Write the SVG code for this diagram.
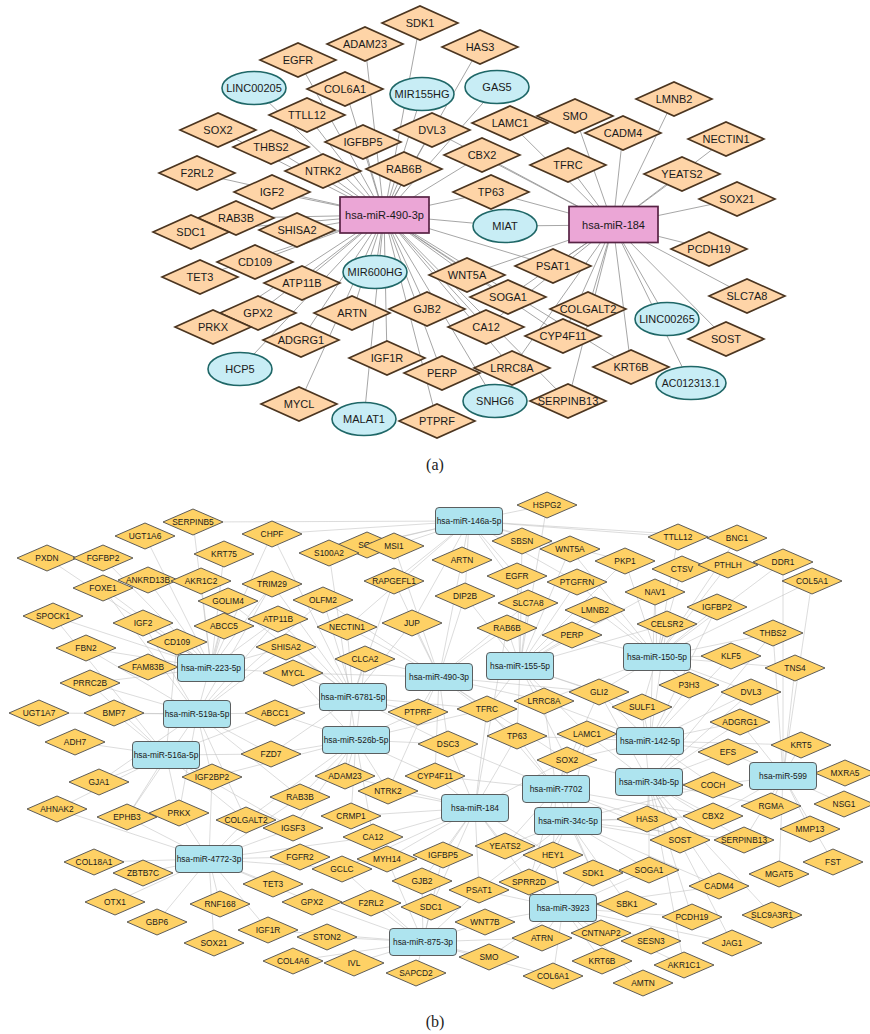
<svg xmlns="http://www.w3.org/2000/svg" xmlns:xlink="http://www.w3.org/1999/xlink" width="870" height="1034" viewBox="0 0 870 1034">
<style>
.ea{stroke:#8f8f8f;stroke-width:0.8;fill:none}
.eb{stroke:#bebebe;stroke-width:0.55;fill:none}
.ta{font-family:"Liberation Sans",Arial,sans-serif;font-size:11px;fill:#1a1a1a;text-anchor:middle;dominant-baseline:central}
.tb{font-family:"Liberation Sans",Arial,sans-serif;font-size:8.4px;fill:#1a1a1a;text-anchor:middle;dominant-baseline:central}
.cap{font-family:"Liberation Serif","Times New Roman",serif;font-size:16px;fill:#222;text-anchor:middle}
</style>
<defs>
<polygon id="dA" points="-38,0 0,-17 38,0 0,17" fill="#fed4a7" stroke="#4b3520" stroke-width="1.6"/>
<ellipse id="oA" rx="32" ry="16.5" fill="#c8edf5" stroke="#1f6767" stroke-width="1.6"/>
<ellipse id="oAw" rx="35" ry="16.5" fill="#c8edf5" stroke="#1f6767" stroke-width="1.6"/>
<rect id="rA" x="-44.5" y="-18" width="89" height="36" fill="#eba6d6" stroke="#572244" stroke-width="1.7"/>
<polygon id="dB" points="-30,0 0,-13 30,0 0,13" fill="#fed165" stroke="#4d4d4d" stroke-width="0.9"/>
<rect id="rB" x="-33.5" y="-13.5" width="67" height="27" rx="3.5" fill="#aee4ef" stroke="#4d4d4d" stroke-width="0.9"/>
</defs>
<rect width="870" height="1034" fill="#ffffff"/>

<!-- network (a): connectors -->
<g id="edges-a">
<path class="ea" d="M384 215L420 23M384 215L365 44M384 215L298 60M384 215L345 89M384 215L254 88M384 215L422 94M384 215L307 115M384 215L218 130M384 215L363 142M384 215L432 130M384 215L271 147M384 215L323 171M384 215L404 169M384 215L197 173M384 215L272 192M384 215L236 218M384 215L191 232M384 215L297 230M384 215L255 262M384 215L200 277M384 215L302 283M384 215L375 272M384 215L258 313M384 215L213 327M384 215L352 313M384 215L301 340M384 215L240 369M384 215L299 404M384 215L364 419M384 215L387 358M384 215L437 421M384 215L442 373M384 215L427 309M384 215L467 275M384 215L508 297M384 215L486 327M384 215L495 401M384 215L512 368M384 215L568 401M384 215L563 336M384 215L491 192M384 215L505 226M384 215L482 155M384 215L497 87M384 215L480 47M384 215L631 367M384 215L553 266"/>
<path class="ea" d="M613 225L510 123M613 225L575 116M613 225L623 133M613 225L674 99M613 225L682 174M613 225L726 139M613 225L737 199M613 225L709 249M613 225L747 296M613 225L726 339M613 225L690 383M613 225L667 319M613 225L631 367M613 225L563 336M613 225L568 401M613 225L588 309M613 225L553 266M613 225L508 297M613 225L467 275M613 225L568 165M613 225L491 192M613 225L482 155M613 225L505 226M613 225L512 368M613 225L486 327M613 225L432 130"/>
</g>

<!-- network (a): nodes -->
<g id="nodes-a">
<g id="a-sdk1" transform="translate(420 23)"><use href="#dA"/><text class="ta">SDK1</text></g>
<g id="a-adam23" transform="translate(365 44)"><use href="#dA"/><text class="ta">ADAM23</text></g>
<g id="a-has3" transform="translate(480 47)"><use href="#dA"/><text class="ta">HAS3</text></g>
<g id="a-egfr" transform="translate(298 60)"><use href="#dA"/><text class="ta">EGFR</text></g>
<g id="a-linc00205" transform="translate(254 88)"><use href="#oA"/><text class="ta">LINC00205</text></g>
<g id="a-col6a1" transform="translate(345 89)"><use href="#dA"/><text class="ta">COL6A1</text></g>
<g id="a-mir155hg" transform="translate(422 94)"><use href="#oA"/><text class="ta">MIR155HG</text></g>
<g id="a-gas5" transform="translate(497 87)"><use href="#oA"/><text class="ta">GAS5</text></g>
<g id="a-lmnb2" transform="translate(674 99)"><use href="#dA"/><text class="ta">LMNB2</text></g>
<g id="a-ttll12" transform="translate(307 115)"><use href="#dA"/><text class="ta">TTLL12</text></g>
<g id="a-smo" transform="translate(575 116)"><use href="#dA"/><text class="ta">SMO</text></g>
<g id="a-lamc1" transform="translate(510 123)"><use href="#dA"/><text class="ta">LAMC1</text></g>
<g id="a-sox2" transform="translate(218 130)"><use href="#dA"/><text class="ta">SOX2</text></g>
<g id="a-dvl3" transform="translate(432 130)"><use href="#dA"/><text class="ta">DVL3</text></g>
<g id="a-cadm4" transform="translate(623 133)"><use href="#dA"/><text class="ta">CADM4</text></g>
<g id="a-nectin1" transform="translate(726 139)"><use href="#dA"/><text class="ta">NECTIN1</text></g>
<g id="a-igfbp5" transform="translate(363 142)"><use href="#dA"/><text class="ta">IGFBP5</text></g>
<g id="a-thbs2" transform="translate(271 147)"><use href="#dA"/><text class="ta">THBS2</text></g>
<g id="a-cbx2" transform="translate(482 155)"><use href="#dA"/><text class="ta">CBX2</text></g>
<g id="a-tfrc" transform="translate(568 165)"><use href="#dA"/><text class="ta">TFRC</text></g>
<g id="a-rab6b" transform="translate(404 169)"><use href="#dA"/><text class="ta">RAB6B</text></g>
<g id="a-ntrk2" transform="translate(323 171)"><use href="#dA"/><text class="ta">NTRK2</text></g>
<g id="a-f2rl2" transform="translate(197 173)"><use href="#dA"/><text class="ta">F2RL2</text></g>
<g id="a-yeats2" transform="translate(682 174)"><use href="#dA"/><text class="ta">YEATS2</text></g>
<g id="a-igf2" transform="translate(272 192)"><use href="#dA"/><text class="ta">IGF2</text></g>
<g id="a-tp63" transform="translate(491 192)"><use href="#dA"/><text class="ta">TP63</text></g>
<g id="a-sox21" transform="translate(737 199)"><use href="#dA"/><text class="ta">SOX21</text></g>
<g id="a-rab3b" transform="translate(236 218)"><use href="#dA"/><text class="ta">RAB3B</text></g>
<g id="a-miat" transform="translate(505 226)"><use href="#oA"/><text class="ta">MIAT</text></g>
<g id="a-sdc1" transform="translate(191 232)"><use href="#dA"/><text class="ta">SDC1</text></g>
<g id="a-shisa2" transform="translate(297 230)"><use href="#dA"/><text class="ta">SHISA2</text></g>
<g id="a-mir490" transform="translate(384.5 215)"><use href="#rA"/><text class="ta">hsa-miR-490-3p</text></g>
<g id="a-mir184" transform="translate(613.5 224.5)"><use href="#rA"/><text class="ta">hsa-miR-184</text></g>
<g id="a-pcdh19" transform="translate(709 249)"><use href="#dA"/><text class="ta">PCDH19</text></g>
<g id="a-cd109" transform="translate(255 262)"><use href="#dA"/><text class="ta">CD109</text></g>
<g id="a-psat1" transform="translate(553 266)"><use href="#dA"/><text class="ta">PSAT1</text></g>
<g id="a-mir600hg" transform="translate(375 272)"><use href="#oA"/><text class="ta">MIR600HG</text></g>
<g id="a-wnt5a" transform="translate(467 275)"><use href="#dA"/><text class="ta">WNT5A</text></g>
<g id="a-tet3" transform="translate(200 277)"><use href="#dA"/><text class="ta">TET3</text></g>
<g id="a-atp11b" transform="translate(302 283)"><use href="#dA"/><text class="ta">ATP11B</text></g>
<g id="a-slc7a8" transform="translate(747 296)"><use href="#dA"/><text class="ta">SLC7A8</text></g>
<g id="a-soga1" transform="translate(508 297)"><use href="#dA"/><text class="ta">SOGA1</text></g>
<g id="a-gjb2" transform="translate(427 309)"><use href="#dA"/><text class="ta">GJB2</text></g>
<g id="a-colgalt2" transform="translate(588 309)"><use href="#dA"/><text class="ta">COLGALT2</text></g>
<g id="a-gpx2" transform="translate(258 313)"><use href="#dA"/><text class="ta">GPX2</text></g>
<g id="a-artn" transform="translate(352 313)"><use href="#dA"/><text class="ta">ARTN</text></g>
<g id="a-linc00265" transform="translate(667 319)"><use href="#oA"/><text class="ta">LINC00265</text></g>
<g id="a-prkx" transform="translate(213 327)"><use href="#dA"/><text class="ta">PRKX</text></g>
<g id="a-ca12" transform="translate(486 327)"><use href="#dA"/><text class="ta">CA12</text></g>
<g id="a-cyp4f11" transform="translate(563 336)"><use href="#dA"/><text class="ta">CYP4F11</text></g>
<g id="a-sost" transform="translate(726 339)"><use href="#dA"/><text class="ta">SOST</text></g>
<g id="a-adgrg1" transform="translate(301 340)"><use href="#dA"/><text class="ta">ADGRG1</text></g>
<g id="a-igf1r" transform="translate(387 358)"><use href="#dA"/><text class="ta">IGF1R</text></g>
<g id="a-krt6b" transform="translate(631 367)"><use href="#dA"/><text class="ta">KRT6B</text></g>
<g id="a-lrrc8a" transform="translate(512 368)"><use href="#dA"/><text class="ta">LRRC8A</text></g>
<g id="a-hcp5" transform="translate(240 369)"><use href="#oA"/><text class="ta">HCP5</text></g>
<g id="a-perp" transform="translate(442 373)"><use href="#dA"/><text class="ta">PERP</text></g>
<g id="a-ac012313" transform="translate(691 383)"><use href="#oAw"/><text class="ta" style="font-size:10.5px">AC012313.1</text></g>
<g id="a-snhg6" transform="translate(495 401)"><use href="#oA"/><text class="ta">SNHG6</text></g>
<g id="a-serpinb13" transform="translate(568 401)"><use href="#dA"/><text class="ta">SERPINB13</text></g>
<g id="a-mycl" transform="translate(299 404)"><use href="#dA"/><text class="ta">MYCL</text></g>
<g id="a-malat1" transform="translate(364 419)"><use href="#oA"/><text class="ta">MALAT1</text></g>
<g id="a-ptprf" transform="translate(437 421)"><use href="#dA"/><text class="ta">PTPRF</text></g>
</g>
<text class="cap" x="435" y="470">(a)</text>

<!-- network (b): connectors, one path per miRNA hub -->
<g id="edges-b">
<path class="eb" d="M469 521L547 505M469 521L522 541M469 521L678 537M469 521L394 546M469 521L367 545M469 521L329 553M469 521L272 534M469 521L462 560M469 521L517 576M469 521L570 549M469 521L625 561M469 521L394 581M469 521L465 596M469 521L528 603M469 521L412 623M469 521L347 627M469 521L577 582M469 521L193 522M469 521L737 538"/>
<path class="eb" d="M211 668L193 522M211 668L145 536M211 668L224 554M211 668L103 558M211 668L148 580M211 668L201 581M211 668L103 588M211 668L228 601M211 668L143 623M211 668L224 626M211 668L177 642M211 668L148 667M211 668L86 648M211 668L90 683M211 668L53 616M211 668L47 558M211 668L286 647M211 668L278 619M211 668L272 584M211 668L293 673M211 668L272 534"/>
<path class="eb" d="M197 714L114 713M197 714L39 713M197 714L275 713M197 714L271 754M197 714L90 683M197 714L212 777M197 714L99 782M197 714L127 817M197 714L179 813M197 714L103 588M197 714L143 623M197 714L278 619M197 714L246 820M197 714L86 648M197 714L272 584M197 714L286 647M197 714L323 600M197 714L300 797M197 714L228 601"/>
<path class="eb" d="M166 755L75 742M166 755L99 782M166 755L57 809M166 755L127 817M166 755L179 813M166 755L212 777M166 755L271 754M166 755L114 713M166 755L90 683M166 755L246 820M166 755L53 616M166 755L275 713M166 755L293 828M166 755L177 642"/>
<path class="eb" d="M353 697L293 673M353 697L275 713M353 697L418 712M353 697L365 659M353 697L347 627M353 697L323 600M353 697L286 647M353 697L272 584M353 697L412 623M353 697L345 776M353 697L271 754M353 697L448 744M353 697L487 709M353 697L278 619M353 697L228 601M353 697L394 581M353 697L272 534"/>
<path class="eb" d="M356 740L275 713M356 740L418 712M356 740L448 744M356 740L345 776M356 740L435 776M356 740L388 791M356 740L300 797M356 740L271 754M356 740L351 816M356 740L293 828M356 740L246 820M356 740L373 837M356 740L365 659M356 740L293 673M356 740L487 709M356 740L329 553M356 740L212 777"/>
<path class="eb" d="M439 677L365 659M439 677L412 623M439 677L418 712M439 677L487 709M439 677L448 744M439 677L507 628M439 677L465 596M439 677L347 627M439 677L394 581M439 677L544 701M439 677L435 776M439 677L517 736M439 677L462 560M439 677L567 760M439 677L599 692M439 677L388 791M439 677L528 603M439 677L293 673M439 677L323 600M439 677L394 546"/>
<path class="eb" d="M520 666L507 628M520 666L572 635M520 666L595 610M520 666L528 603M520 666L517 576M520 666L577 582M520 666L544 701M520 666L487 709M520 666L517 736M520 666L599 692M520 666L570 549M520 666L465 596M520 666L625 561M520 666L655 592M520 666L587 734M520 666L567 760M520 666L642 707M520 666L667 624M520 666L522 541M520 666L547 505"/>
<path class="eb" d="M657 657L667 624M657 657L655 592M657 657L595 610M657 657L572 635M657 657L731 656M657 657L689 685M657 657L717 607M657 657L682 569M657 657L625 561M657 657L773 633M657 657L599 692M657 657L642 707M657 657L795 668M657 657L751 692M657 657L728 565M657 657L678 537M657 657L544 701M657 657L812 581M657 657L737 538M657 657L783 562M657 657L577 582M657 657L570 549"/>
<path class="eb" d="M650 741L642 707M650 741L599 692M650 741L587 734M650 741L728 752M650 741L740 722M650 741L689 685M650 741L751 692M650 741L567 760M650 741L713 785M650 741L731 656M650 741L667 624M650 741L517 736M650 741L544 701M650 741L801 745M650 741L717 607M650 741L655 592"/>
<path class="eb" d="M649 782L713 785M649 782L713 816M649 782L647 819M649 782L680 840M649 782L567 760M649 782L587 734M649 782L728 752M649 782L771 806M649 782L744 840M649 782L740 722M649 782L751 692M649 782L773 633M649 782L642 707M649 782L649 870M649 782L599 692M649 782L719 886M649 782L692 917M649 782L732 943M649 782L772 915M649 782L684 965"/>
<path class="eb" d="M783 776L845 773M783 776L844 804M783 776L801 745M783 776L771 806M783 776L810 829M783 776L728 752M783 776L740 722M783 776L713 816M783 776L713 785M783 776L795 668M783 776L833 862M783 776L779 874M783 776L773 633M783 776L812 581M783 776L783 562M783 776L744 840"/>
<path class="eb" d="M556 789L567 760M556 789L587 734M556 789L517 736M556 789L505 846M556 789L553 855M556 789L435 776M556 789L544 701M556 789L647 819M556 789L680 840M556 789L599 692M556 789L487 709M556 789L448 744M556 789L529 882M556 789L593 873M556 789L713 816"/>
<path class="eb" d="M475 808L435 776M475 808L388 791M475 808L505 846M475 808L443 855M475 808L517 736M475 808L448 744M475 808L373 837M475 808L387 859M475 808L553 855M475 808L422 881M475 808L479 890M475 808L351 816M475 808L567 760M475 808L345 776M475 808L487 709M475 808L342 869M475 808L507 628M475 808L431 907M475 808L529 882"/>
<path class="eb" d="M568 821L553 855M568 821L505 846M568 821L647 819M568 821L680 840M568 821L529 882M568 821L593 873M568 821L649 870M568 821L713 816M568 821L567 760M568 821L587 734M568 821L479 890M568 821L719 886M568 821L744 840M568 821L713 785M568 821L627 904"/>
<path class="eb" d="M209 859L94 862M209 859L143 873M209 859L115 902M209 859L157 922M209 859L220 904M209 859L273 884M209 859L300 857M209 859L293 828M209 859L246 820M209 859L179 813M209 859L127 817M209 859L214 943M209 859L268 930M209 859L312 902M209 859L300 797M209 859L57 809M209 859L212 777M209 859L373 837M209 859L342 869"/>
<path class="eb" d="M563 908L529 882M563 908L593 873M563 908L627 904M563 908L601 933M563 908L602 961M563 908L542 938M563 908L553 976M563 908L643 983M563 908L651 941M563 908L692 917M563 908L649 870M563 908L553 855M563 908L485 922M563 908L479 890M563 908L719 886M563 908L684 965M563 908L732 943M563 908L489 957"/>
<path class="eb" d="M423 942L327 937M423 942L354 963M423 942L416 973M423 942L489 957M423 942L485 922M423 942L431 907M423 942L371 903M423 942L422 881M423 942L312 902M423 942L293 961M423 942L479 890M423 942L542 938M423 942L342 869M423 942L268 930M423 942L387 859M423 942L553 976M423 942L443 855"/>
</g>

<!-- network (b): nodes -->
<g id="nodes-b">
<g id="b-hspg2" transform="translate(547 505)"><use href="#dB"/><text class="tb">HSPG2</text></g>
<g id="b-serpinb5" transform="translate(193 522)"><use href="#dB"/><text class="tb">SERPINB5</text></g>
<g id="b-ugt1a6" transform="translate(145 536)"><use href="#dB"/><text class="tb">UGT1A6</text></g>
<g id="b-chpf" transform="translate(272 534)"><use href="#dB"/><text class="tb">CHPF</text></g>
<g id="b-ttll12" transform="translate(678 537)"><use href="#dB"/><text class="tb">TTLL12</text></g>
<g id="b-bnc1" transform="translate(737 538)"><use href="#dB"/><text class="tb">BNC1</text></g>
<g id="b-sbsn" transform="translate(522 541)"><use href="#dB"/><text class="tb">SBSN</text></g>
<g id="b-sox" transform="translate(367 545)"><use href="#dB"/><text class="tb">SOX</text></g>
<g id="b-s100a2" transform="translate(329 553)"><use href="#dB"/><text class="tb">S100A2</text></g>
<g id="b-msi1" transform="translate(394 546)"><use href="#dB"/><text class="tb">MSI1</text></g>
<g id="b-wnt5a" transform="translate(570 549)"><use href="#dB"/><text class="tb">WNT5A</text></g>
<g id="b-pxdn" transform="translate(47 558)"><use href="#dB"/><text class="tb">PXDN</text></g>
<g id="b-fgfbp2" transform="translate(103 558)"><use href="#dB"/><text class="tb">FGFBP2</text></g>
<g id="b-krt75" transform="translate(224 554)"><use href="#dB"/><text class="tb">KRT75</text></g>
<g id="b-artn" transform="translate(462 560)"><use href="#dB"/><text class="tb">ARTN</text></g>
<g id="b-pkp1" transform="translate(625 561)"><use href="#dB"/><text class="tb">PKP1</text></g>
<g id="b-ctsv" transform="translate(682 569)"><use href="#dB"/><text class="tb">CTSV</text></g>
<g id="b-pthlh" transform="translate(728 565)"><use href="#dB"/><text class="tb">PTHLH</text></g>
<g id="b-ddr1" transform="translate(783 562)"><use href="#dB"/><text class="tb">DDR1</text></g>
<g id="b-egfr" transform="translate(517 576)"><use href="#dB"/><text class="tb">EGFR</text></g>
<g id="b-ankrd13b" transform="translate(148 580)"><use href="#dB"/><text class="tb">ANKRD13B</text></g>
<g id="b-akr1c2" transform="translate(201 581)"><use href="#dB"/><text class="tb">AKR1C2</text></g>
<g id="b-rapgefl1" transform="translate(394 581)"><use href="#dB"/><text class="tb">RAPGEFL1</text></g>
<g id="b-col5a1" transform="translate(812 581)"><use href="#dB"/><text class="tb">COL5A1</text></g>
<g id="b-ptgfrn" transform="translate(577 582)"><use href="#dB"/><text class="tb">PTGFRN</text></g>
<g id="b-trim29" transform="translate(272 584)"><use href="#dB"/><text class="tb">TRIM29</text></g>
<g id="b-foxe1" transform="translate(103 588)"><use href="#dB"/><text class="tb">FOXE1</text></g>
<g id="b-nav1" transform="translate(655 592)"><use href="#dB"/><text class="tb">NAV1</text></g>
<g id="b-dip2b" transform="translate(465 596)"><use href="#dB"/><text class="tb">DIP2B</text></g>
<g id="b-olfm2" transform="translate(323 600)"><use href="#dB"/><text class="tb">OLFM2</text></g>
<g id="b-golim4" transform="translate(228 601)"><use href="#dB"/><text class="tb">GOLIM4</text></g>
<g id="b-slc7a8" transform="translate(528 603)"><use href="#dB"/><text class="tb">SLC7A8</text></g>
<g id="b-igfbp2" transform="translate(717 607)"><use href="#dB"/><text class="tb">IGFBP2</text></g>
<g id="b-lmnb2" transform="translate(595 610)"><use href="#dB"/><text class="tb">LMNB2</text></g>
<g id="b-spock1" transform="translate(53 616)"><use href="#dB"/><text class="tb">SPOCK1</text></g>
<g id="b-atp11b" transform="translate(278 619)"><use href="#dB"/><text class="tb">ATP11B</text></g>
<g id="b-igf2" transform="translate(143 623)"><use href="#dB"/><text class="tb">IGF2</text></g>
<g id="b-jup" transform="translate(412 623)"><use href="#dB"/><text class="tb">JUP</text></g>
<g id="b-celsr2" transform="translate(667 624)"><use href="#dB"/><text class="tb">CELSR2</text></g>
<g id="b-abcc5" transform="translate(224 626)"><use href="#dB"/><text class="tb">ABCC5</text></g>
<g id="b-nectin1" transform="translate(347 627)"><use href="#dB"/><text class="tb">NECTIN1</text></g>
<g id="b-rab6b" transform="translate(507 628)"><use href="#dB"/><text class="tb">RAB6B</text></g>
<g id="b-thbs2" transform="translate(773 633)"><use href="#dB"/><text class="tb">THBS2</text></g>
<g id="b-perp" transform="translate(572 635)"><use href="#dB"/><text class="tb">PERP</text></g>
<g id="b-cd109" transform="translate(177 642)"><use href="#dB"/><text class="tb">CD109</text></g>
<g id="b-shisa2" transform="translate(286 647)"><use href="#dB"/><text class="tb">SHISA2</text></g>
<g id="b-fbn2" transform="translate(86 648)"><use href="#dB"/><text class="tb">FBN2</text></g>
<g id="b-klf5" transform="translate(731 656)"><use href="#dB"/><text class="tb">KLF5</text></g>
<g id="b-clca2" transform="translate(365 659)"><use href="#dB"/><text class="tb">CLCA2</text></g>
<g id="b-fam83b" transform="translate(148 667)"><use href="#dB"/><text class="tb">FAM83B</text></g>
<g id="b-tns4" transform="translate(795 668)"><use href="#dB"/><text class="tb">TNS4</text></g>
<g id="b-mycl" transform="translate(293 673)"><use href="#dB"/><text class="tb">MYCL</text></g>
<g id="b-prrc2b" transform="translate(90 683)"><use href="#dB"/><text class="tb">PRRC2B</text></g>
<g id="b-p3h3" transform="translate(689 685)"><use href="#dB"/><text class="tb">P3H3</text></g>
<g id="b-gli2" transform="translate(599 692)"><use href="#dB"/><text class="tb">GLI2</text></g>
<g id="b-dvl3" transform="translate(751 692)"><use href="#dB"/><text class="tb">DVL3</text></g>
<g id="b-lrrc8a" transform="translate(544 701)"><use href="#dB"/><text class="tb">LRRC8A</text></g>
<g id="b-sulf1" transform="translate(642 707)"><use href="#dB"/><text class="tb">SULF1</text></g>
<g id="b-tfrc" transform="translate(487 709)"><use href="#dB"/><text class="tb">TFRC</text></g>
<g id="b-ptprf" transform="translate(418 712)"><use href="#dB"/><text class="tb">PTPRF</text></g>
<g id="b-ugt1a7" transform="translate(39 713)"><use href="#dB"/><text class="tb">UGT1A7</text></g>
<g id="b-bmp7" transform="translate(114 713)"><use href="#dB"/><text class="tb">BMP7</text></g>
<g id="b-abcc1" transform="translate(275 713)"><use href="#dB"/><text class="tb">ABCC1</text></g>
<g id="b-adgrg1" transform="translate(740 722)"><use href="#dB"/><text class="tb">ADGRG1</text></g>
<g id="b-lamc1" transform="translate(587 734)"><use href="#dB"/><text class="tb">LAMC1</text></g>
<g id="b-tp63" transform="translate(517 736)"><use href="#dB"/><text class="tb">TP63</text></g>
<g id="b-adh7" transform="translate(75 742)"><use href="#dB"/><text class="tb">ADH7</text></g>
<g id="b-dsc3" transform="translate(448 744)"><use href="#dB"/><text class="tb">DSC3</text></g>
<g id="b-krt5" transform="translate(801 745)"><use href="#dB"/><text class="tb">KRT5</text></g>
<g id="b-efs" transform="translate(728 752)"><use href="#dB"/><text class="tb">EFS</text></g>
<g id="b-fzd7" transform="translate(271 754)"><use href="#dB"/><text class="tb">FZD7</text></g>
<g id="b-sox2" transform="translate(567 760)"><use href="#dB"/><text class="tb">SOX2</text></g>
<g id="b-mxra5" transform="translate(845 773)"><use href="#dB"/><text class="tb">MXRA5</text></g>
<g id="b-adam23" transform="translate(345 776)"><use href="#dB"/><text class="tb">ADAM23</text></g>
<g id="b-cyp4f11" transform="translate(435 776)"><use href="#dB"/><text class="tb">CYP4F11</text></g>
<g id="b-igf2bp2" transform="translate(212 777)"><use href="#dB"/><text class="tb">IGF2BP2</text></g>
<g id="b-gja1" transform="translate(99 782)"><use href="#dB"/><text class="tb">GJA1</text></g>
<g id="b-coch" transform="translate(713 785)"><use href="#dB"/><text class="tb">COCH</text></g>
<g id="b-ntrk2" transform="translate(388 791)"><use href="#dB"/><text class="tb">NTRK2</text></g>
<g id="b-rab3b" transform="translate(300 797)"><use href="#dB"/><text class="tb">RAB3B</text></g>
<g id="b-nsg1" transform="translate(844 804)"><use href="#dB"/><text class="tb">NSG1</text></g>
<g id="b-rgma" transform="translate(771 806)"><use href="#dB"/><text class="tb">RGMA</text></g>
<g id="b-ahnak2" transform="translate(57 809)"><use href="#dB"/><text class="tb">AHNAK2</text></g>
<g id="b-ephb3" transform="translate(127 817)"><use href="#dB"/><text class="tb">EPHB3</text></g>
<g id="b-prkx" transform="translate(179 813)"><use href="#dB"/><text class="tb">PRKX</text></g>
<g id="b-crmp1" transform="translate(351 816)"><use href="#dB"/><text class="tb">CRMP1</text></g>
<g id="b-cbx2" transform="translate(713 816)"><use href="#dB"/><text class="tb">CBX2</text></g>
<g id="b-has3" transform="translate(647 819)"><use href="#dB"/><text class="tb">HAS3</text></g>
<g id="b-colgalt2" transform="translate(246 820)"><use href="#dB"/><text class="tb">COLGALT2</text></g>
<g id="b-igsf3" transform="translate(293 828)"><use href="#dB"/><text class="tb">IGSF3</text></g>
<g id="b-mmp13" transform="translate(810 829)"><use href="#dB"/><text class="tb">MMP13</text></g>
<g id="b-ca12" transform="translate(373 837)"><use href="#dB"/><text class="tb">CA12</text></g>
<g id="b-sost" transform="translate(680 840)"><use href="#dB"/><text class="tb">SOST</text></g>
<g id="b-serpinb13" transform="translate(744 840)"><use href="#dB"/><text class="tb">SERPINB13</text></g>
<g id="b-yeats2" transform="translate(505 846)"><use href="#dB"/><text class="tb">YEATS2</text></g>
<g id="b-igfbp5" transform="translate(443 855)"><use href="#dB"/><text class="tb">IGFBP5</text></g>
<g id="b-hey1" transform="translate(553 855)"><use href="#dB"/><text class="tb">HEY1</text></g>
<g id="b-fgfr2" transform="translate(300 857)"><use href="#dB"/><text class="tb">FGFR2</text></g>
<g id="b-myh14" transform="translate(387 859)"><use href="#dB"/><text class="tb">MYH14</text></g>
<g id="b-col18a1" transform="translate(94 862)"><use href="#dB"/><text class="tb">COL18A1</text></g>
<g id="b-fst" transform="translate(833 862)"><use href="#dB"/><text class="tb">FST</text></g>
<g id="b-gclc" transform="translate(342 869)"><use href="#dB"/><text class="tb">GCLC</text></g>
<g id="b-soga1" transform="translate(649 870)"><use href="#dB"/><text class="tb">SOGA1</text></g>
<g id="b-sdk1" transform="translate(593 873)"><use href="#dB"/><text class="tb">SDK1</text></g>
<g id="b-zbtb7c" transform="translate(143 873)"><use href="#dB"/><text class="tb">ZBTB7C</text></g>
<g id="b-mgat5" transform="translate(779 874)"><use href="#dB"/><text class="tb">MGAT5</text></g>
<g id="b-gjb2" transform="translate(422 881)"><use href="#dB"/><text class="tb">GJB2</text></g>
<g id="b-sprr2d" transform="translate(529 882)"><use href="#dB"/><text class="tb">SPRR2D</text></g>
<g id="b-tet3" transform="translate(273 884)"><use href="#dB"/><text class="tb">TET3</text></g>
<g id="b-cadm4" transform="translate(719 886)"><use href="#dB"/><text class="tb">CADM4</text></g>
<g id="b-psat1" transform="translate(479 890)"><use href="#dB"/><text class="tb">PSAT1</text></g>
<g id="b-otx1" transform="translate(115 902)"><use href="#dB"/><text class="tb">OTX1</text></g>
<g id="b-gpx2" transform="translate(312 902)"><use href="#dB"/><text class="tb">GPX2</text></g>
<g id="b-f2rl2" transform="translate(371 903)"><use href="#dB"/><text class="tb">F2RL2</text></g>
<g id="b-rnf168" transform="translate(220 904)"><use href="#dB"/><text class="tb">RNF168</text></g>
<g id="b-sbk1" transform="translate(627 904)"><use href="#dB"/><text class="tb">SBK1</text></g>
<g id="b-sdc1" transform="translate(431 907)"><use href="#dB"/><text class="tb">SDC1</text></g>
<g id="b-slc9a3r1" transform="translate(772 915)"><use href="#dB"/><text class="tb">SLC9A3R1</text></g>
<g id="b-pcdh19" transform="translate(692 917)"><use href="#dB"/><text class="tb">PCDH19</text></g>
<g id="b-gbp6" transform="translate(157 922)"><use href="#dB"/><text class="tb">GBP6</text></g>
<g id="b-wnt7b" transform="translate(485 922)"><use href="#dB"/><text class="tb">WNT7B</text></g>
<g id="b-igf1r" transform="translate(268 930)"><use href="#dB"/><text class="tb">IGF1R</text></g>
<g id="b-cntnap2" transform="translate(601 933)"><use href="#dB"/><text class="tb">CNTNAP2</text></g>
<g id="b-ston2" transform="translate(327 937)"><use href="#dB"/><text class="tb">STON2</text></g>
<g id="b-atrn" transform="translate(542 938)"><use href="#dB"/><text class="tb">ATRN</text></g>
<g id="b-sesn3" transform="translate(651 941)"><use href="#dB"/><text class="tb">SESN3</text></g>
<g id="b-sox21" transform="translate(214 943)"><use href="#dB"/><text class="tb">SOX21</text></g>
<g id="b-jag1" transform="translate(732 943)"><use href="#dB"/><text class="tb">JAG1</text></g>
<g id="b-smo" transform="translate(489 957)"><use href="#dB"/><text class="tb">SMO</text></g>
<g id="b-col4a6" transform="translate(293 961)"><use href="#dB"/><text class="tb">COL4A6</text></g>
<g id="b-krt6b" transform="translate(602 961)"><use href="#dB"/><text class="tb">KRT6B</text></g>
<g id="b-ivl" transform="translate(354 963)"><use href="#dB"/><text class="tb">IVL</text></g>
<g id="b-akr1c1" transform="translate(684 965)"><use href="#dB"/><text class="tb">AKR1C1</text></g>
<g id="b-sapcd2" transform="translate(416 973)"><use href="#dB"/><text class="tb">SAPCD2</text></g>
<g id="b-col6a1" transform="translate(553 976)"><use href="#dB"/><text class="tb">COL6A1</text></g>
<g id="b-amtn" transform="translate(643 983)"><use href="#dB"/><text class="tb">AMTN</text></g>
<g id="b-mir146a" transform="translate(469 521)"><use href="#rB"/><text class="tb">hsa-miR-146a-5p</text></g>
<g id="b-mir223" transform="translate(211 668)"><use href="#rB"/><text class="tb">hsa-miR-223-5p</text></g>
<g id="b-mir155" transform="translate(520 666)"><use href="#rB"/><text class="tb">hsa-miR-155-5p</text></g>
<g id="b-mir150" transform="translate(657 657)"><use href="#rB"/><text class="tb">hsa-miR-150-5p</text></g>
<g id="b-mir490" transform="translate(439 677)"><use href="#rB"/><text class="tb">hsa-miR-490-3p</text></g>
<g id="b-mir6781" transform="translate(353 697)"><use href="#rB"/><text class="tb">hsa-miR-6781-5p</text></g>
<g id="b-mir519a" transform="translate(197 714)"><use href="#rB"/><text class="tb">hsa-miR-519a-5p</text></g>
<g id="b-mir526b" transform="translate(356 740)"><use href="#rB"/><text class="tb">hsa-miR-526b-5p</text></g>
<g id="b-mir142" transform="translate(650 741)"><use href="#rB"/><text class="tb">hsa-miR-142-5p</text></g>
<g id="b-mir516a" transform="translate(166 755)"><use href="#rB"/><text class="tb">hsa-miR-516a-5p</text></g>
<g id="b-mir7702" transform="translate(556 789)"><use href="#rB"/><text class="tb">hsa-miR-7702</text></g>
<g id="b-mir34b" transform="translate(649 782)"><use href="#rB"/><text class="tb">hsa-miR-34b-5p</text></g>
<g id="b-mir599" transform="translate(783 776)"><use href="#rB"/><text class="tb">hsa-miR-599</text></g>
<g id="b-mir184" transform="translate(475 808)"><use href="#rB"/><text class="tb">hsa-miR-184</text></g>
<g id="b-mir34c" transform="translate(568 821)"><use href="#rB"/><text class="tb">hsa-miR-34c-5p</text></g>
<g id="b-mir4772" transform="translate(209 859)"><use href="#rB"/><text class="tb">hsa-miR-4772-3p</text></g>
<g id="b-mir3923" transform="translate(563 908)"><use href="#rB"/><text class="tb">hsa-miR-3923</text></g>
<g id="b-mir875" transform="translate(423 942)"><use href="#rB"/><text class="tb">hsa-miR-875-3p</text></g>
</g>
<text class="cap" x="435" y="1027">(b)</text>
</svg>
